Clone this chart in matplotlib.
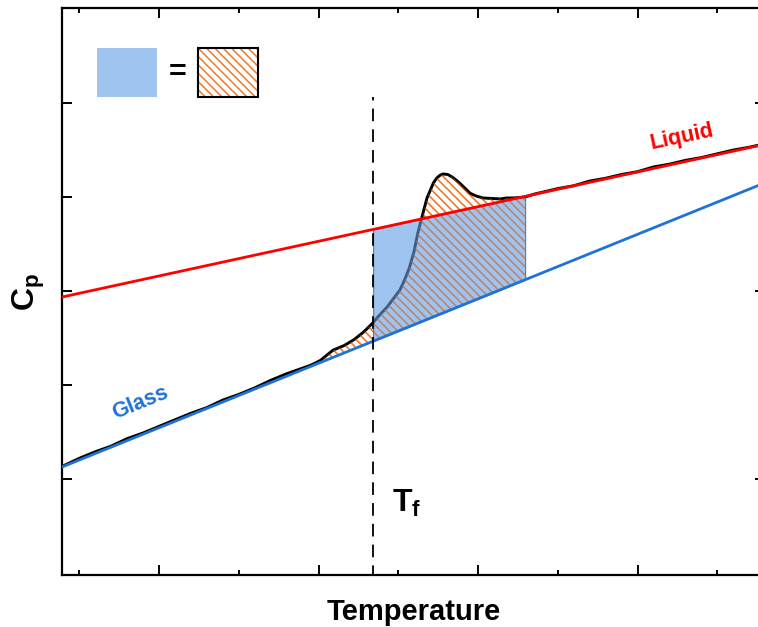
import numpy as np
import matplotlib
matplotlib.use("Agg")
import matplotlib.pyplot as plt
from matplotlib.patches import Rectangle

plt.rcParams['font.family'] = ['Liberation Sans', 'DejaVu Sans']
plt.rcParams['font.weight'] = 'bold'
plt.rcParams['mathtext.fontset'] = 'custom'
plt.rcParams['mathtext.rm'] = 'Liberation Sans'
plt.rcParams['mathtext.bf'] = 'Liberation Sans:bold'
plt.rcParams['mathtext.it'] = 'Liberation Sans:bold'
plt.rcParams['hatch.linewidth'] = 1.1

# Measured heat-capacity curve (arbitrary units)
curve_T = [40, 50, 60, 70, 80, 90, 100, 110, 120, 130, 140, 150, 160, 170, 180,
           190, 195, 201, 209, 216, 222, 228, 234, 238, 243, 247, 251, 254, 257,
           260, 262, 265.5, 268, 270, 272, 274, 276, 278, 281, 284, 287, 289,
           292, 295, 299, 303, 308, 314, 318, 322, 326, 329.5, 335, 340, 350,
           360, 370, 380, 390, 400, 410, 420, 430, 440, 450, 460, 470, 478]
curve_cp = [1.14, 1.22, 1.29, 1.35, 1.43, 1.49, 1.56, 1.63, 1.70, 1.76, 1.84,
            1.90, 1.97, 2.05, 2.12, 2.18, 2.21, 2.26, 2.37, 2.42, 2.48, 2.56,
            2.66, 2.74, 2.83, 2.92, 3.01, 3.12, 3.25, 3.43, 3.60, 3.83, 3.99,
            4.07, 4.15, 4.20, 4.23, 4.245, 4.24, 4.21, 4.17, 4.14, 4.09, 4.04,
            4.01, 3.99, 3.985, 3.98, 3.99, 3.99, 3.995, 4.00, 4.03, 4.05, 4.09,
            4.12, 4.17, 4.20, 4.24, 4.27, 4.32, 4.35, 4.39, 4.42, 4.46, 4.50,
            4.53, 4.56]

# Extrapolated glass and liquid baselines (end points)
glass_T = [39.18, 483.0]
glass_cp = [1.128, 4.173]
liquid_T = [39.18, 483.0]
liquid_cp = [2.936, 4.573]

Tf = 234.2
T_end = 329.5
T_onset = 190

orange = '#f07a28'
blue_line = '#1f72d8'
fill_blue = '#619de6'
hatch = '\\\\\\\\'

fig = plt.figure(figsize=(7.58, 6.27), dpi=100)
ax = fig.add_axes([62 / 758, 52 / 627, 704 / 758, 567 / 627])

T = np.array(curve_T)
cp = np.array(curve_cp)
glass = np.interp(T, glass_T, glass_cp)

# orange hatched area between the measured curve and the glass baseline
sel = (T >= T_onset) & (T <= T_end)
ax.fill_between(T[sel], glass[sel], cp[sel], facecolor='none',
                edgecolor=orange, hatch=hatch, linewidth=0, zorder=1)

ax.plot(T, cp, color='black', lw=2.1, zorder=2)

# blue area: liquid minus glass from Tf to the end of the transition
Tb = np.array([Tf, T_end])
ax.fill_between(Tb, np.interp(Tb, glass_T, glass_cp),
                np.interp(Tb, liquid_T, liquid_cp),
                facecolor=fill_blue, alpha=0.6, edgecolor='#303030',
                linewidth=0.8, zorder=3)

# faint second pass of the hatch so it tints through the blue
ax.fill_between(T[sel], glass[sel], cp[sel], facecolor='none',
                edgecolor=orange, hatch=hatch, linewidth=0, alpha=0.4,
                zorder=3.5)

ax.plot(liquid_T, liquid_cp, color='#ff0000', lw=2.0, zorder=4)
ax.plot(glass_T, glass_cp, color=blue_line, lw=2.0, zorder=4)

ax.plot([Tf, Tf], [-0.05, 5.064], color='black', lw=1.3,
        dashes=(7, 4.5), zorder=5)

ax.text(88, 1.81, 'Glass', color=blue_line, fontsize=15.5, rotation=22,
        ha='center', va='center', fontweight='bold')
ax.text(428, 4.64, 'Liquid', color='#ff0000', fontsize=15.5, rotation=12,
        ha='center', va='center', fontweight='bold')
ax.text(255, 0.74, r'$\mathbf{T_f}$', fontsize=23, ha='center', va='center')

# key: blue area equals hatched area
ax.add_patch(Rectangle((61.1, 5.064), 37.6, 0.52, facecolor=fill_blue,
                       alpha=0.6, edgecolor='none', zorder=3))
ax.add_patch(Rectangle((124.5, 5.064), 37.6, 0.52, facecolor='white',
                       edgecolor=orange, hatch=hatch, linewidth=0, zorder=3))
ax.add_patch(Rectangle((124.5, 5.064), 37.6, 0.52, facecolor='none',
                       edgecolor='black', linewidth=1.5, zorder=4))
ax.text(111.9, 5.32, '=', fontsize=22, ha='center', va='center',
        fontweight='bold')

ax.set_xlim(39.18, 480.5)
ax.set_ylim(-0.021, 6.011)
ax.set_xticks([100, 200, 300, 400])
ax.set_xticks([50, 150, 250, 350, 450], minor=True)
ax.set_yticks([1, 2, 3, 4, 5])
ax.set_xticklabels([])
ax.set_yticklabels([])
ax.tick_params(which='major', direction='in', length=7, width=1.4,
               top=True, bottom=True, left=True, right=False)
ax.tick_params(which='minor', direction='in', length=3.5, width=1.4,
               top=True, bottom=True)
for s in ax.spines.values():
    s.set_linewidth(1.6)
ax.spines['right'].set_visible(False)

# right-hand ticks only at every other level
sec = ax.secondary_yaxis('right')
sec.set_yticks([1, 3, 5])
sec.set_yticklabels([])
sec.tick_params(direction='in', length=8, width=1.4)
sec.spines['right'].set_visible(False)

ax.set_xlabel('Temperature', fontsize=21, fontweight='bold', labelpad=13)
ax.set_ylabel(r'$\mathbf{C_p}$', fontsize=23, labelpad=7)

fig.savefig('out.png', dpi=100)
